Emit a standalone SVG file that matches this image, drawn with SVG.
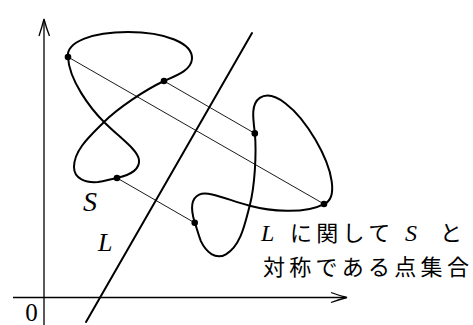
<svg xmlns="http://www.w3.org/2000/svg" width="473" height="325" viewBox="0 0 473 325">
<style>
.axis{stroke:#000;stroke-width:1.3;fill:none}
.line{stroke:#000;stroke-width:2;fill:none;stroke-linecap:round}
.curve{stroke:#000;stroke-width:2;fill:none;stroke-linejoin:round}
.chord{stroke:#000;stroke-width:0.9;fill:none}
.dot{fill:#000}
.it{font-family:"Liberation Serif",serif;font-style:italic;fill:#000}
.rm{font-family:"Liberation Serif",serif;fill:#000}
.jp{font-family:"Noto Sans CJK JP",sans-serif;font-weight:400;font-size:22px;fill:#000;letter-spacing:4.3px}
</style>
<defs>
<path id="shapeS" d="M68,57 C66,42 92,32 128,32 C165,32 193,43 192,59 C191,70 178,75 164,81 C145,90 118,108 104,122 C90,136 74,150 74,167 C74,179 86,183 98,182 C105,181 111,179 117,178 C130,175 140,170 139,160 C138,150 120,138 104,122 C90,108 69,80 68,57 Z"/>
</defs>
<g id="axes">
<line class="axis" x1="44" y1="325" x2="44" y2="20"/>
<path class="axis" d="M39,36 Q42,27 44,19 Q46,27 49.5,36"/>
<line class="axis" x1="13" y1="297.5" x2="346" y2="297.5"/>
<path class="axis" d="M331,292.5 Q339,295.5 347,297.5 Q339,299.5 331,302.5"/>
</g>
<g id="lineL">
<line class="line" x1="86" y1="322" x2="252" y2="33"/>
</g>
<g id="curveS">
<use href="#shapeS" class="curve"/>
</g>
<g id="curveSprime">
<use href="#shapeS" class="curve" transform="matrix(-0.50385,-0.8638,-0.8638,0.50385,407.47,234.05)"/>
</g>
<g id="connectors">
<line class="chord" x1="68" y1="57" x2="324" y2="204"/>
<line class="chord" x1="164" y1="81" x2="254.8" y2="133.4"/>
<line class="chord" x1="117" y1="178" x2="194.7" y2="222.8"/>
</g>
<g id="points">
<circle class="dot" cx="68" cy="57" r="3.3"/>
<circle class="dot" cx="164" cy="81" r="3.3"/>
<circle class="dot" cx="117" cy="178" r="3.3"/>
<circle class="dot" cx="324" cy="204" r="3.3"/>
<circle class="dot" cx="254.8" cy="133.4" r="3.3"/>
<circle class="dot" cx="194.7" cy="222.8" r="3.3"/>
</g>
<g id="labels">
<text class="it" x="83" y="210.5" font-size="28">S</text>
<text class="it" x="98" y="251" font-size="26">L</text>
<text class="rm" x="31.5" y="320.5" font-size="25" text-anchor="middle">0</text>
<text class="it" x="261" y="241" font-size="24">L</text>
<text class="jp" x="290" y="241">に関して</text>
<text class="it" x="405" y="241" font-size="24">S</text>
<text class="jp" x="440" y="241">と</text>
<text class="jp" x="263" y="275">対称である点集合</text>
</g>
</svg>
